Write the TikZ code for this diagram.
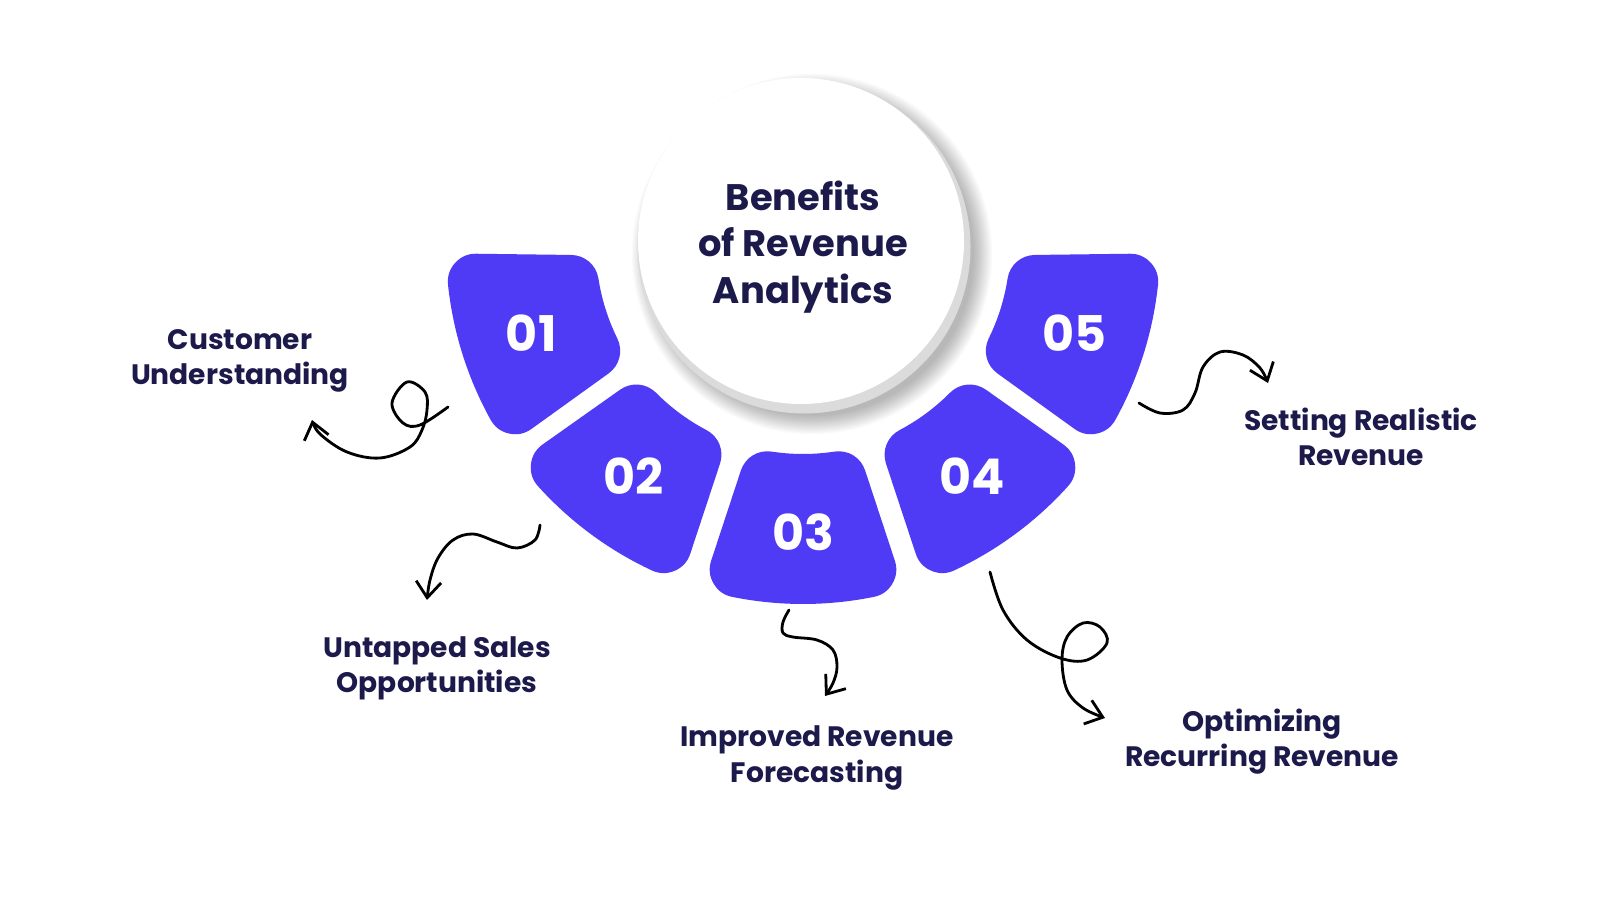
\documentclass[tikz,border=0pt]{standalone}
\usepackage{fontspec}
\setmainfont{Poppins}
\usetikzlibrary{arrows.meta}
\definecolor{segblue}{HTML}{4F3BF6}
\definecolor{navy}{HTML}{1B1A4B}
\tikzset{
  petal/.style={fill=segblue, draw=segblue, line width=0.56cm, line join=round},
  numlabel/.style={text=white, font=\fontsize{14}{14}\selectfont\bfseries},
  benefit/.style={text=navy, align=center, inner sep=0pt, font=\fontsize{8}{10}\selectfont\bfseries},
  headline/.style={text=navy, align=center, inner sep=0pt, font=\fontsize{10.5}{13.2}\selectfont\bfseries},
  squiggle/.style={line width=0.8pt, line cap=round, line join=round, -{Straight Barb[length=1.6mm, width=2.5mm]}},
}
\begin{document}
\begin{tikzpicture}
  \useasboundingbox (0,0) rectangle (16,9);
  \fill[white] (0,0) rectangle (16,9);
  % soft shadow under the hub
  \foreach \k in {0,...,14}
    \fill[black, opacity=0.018] (8.12,6.46) circle ({1.62+0.013*\k});
  \fill[gray!28] (8.04,6.53) circle (1.665);
  \fill[white] (8.01,6.59) circle (1.63);
  \node[headline] (hub) at (8.03,6.53) {Benefits\\of Revenue\\Analytics};
  % petals around the hub
  \begin{scope}[shift={(8.03,6.53)}]
    \foreach \c/\num in {197.5/01,233.5/02,270/03,306.5/04,342.5/05} {
      \pgfmathsetmacro\ia{\c-8.70}
      \pgfmathsetmacro\ib{\c+8.70}
      \pgfmathsetmacro\oa{\c-11.44}
      \pgfmathsetmacro\ob{\c+11.44}
      \filldraw[petal] (\ia:2.35) arc[start angle=\ia, end angle=\ib, radius=2.35]
        -- (\ob:3.29) arc[start angle=\ob, end angle=\oa, radius=3.29] -- cycle;
      \node[numlabel] (p\num) at (\c:2.85) {\num};
    }
  \end{scope}
  % benefit labels
  \node[benefit] (customer) at (2.40,5.39) {Customer\\Understanding};
  \node[benefit] (untapped) at (4.37,2.32) {Untapped Sales\\Opportunities};
  \node[benefit] (forecast) at (8.17,1.42) {Improved Revenue\\Forecasting};
  \node[benefit] (recurring) at (12.62,1.58) {Optimizing\\Recurring Revenue};
  \node[benefit] (realistic) at (13.61,4.63) {Setting Realistic\\Revenue};
  % hand drawn arrows
  \coordinate (s1) at (4.48,4.93);
  \coordinate (t1) at (3.12,4.80);
  \coordinate (s2) at (5.40,3.75);
  \coordinate (t2) at (4.27,3.00);
  \coordinate (s3) at (7.89,2.90);
  \coordinate (t3) at (8.25,2.04);
  \coordinate (s4) at (9.90,3.28);
  \coordinate (t4) at (11.05,1.82);
  \coordinate (s5) at (11.39,4.97);
  \coordinate (t5) at (12.68,5.17);
  \draw[squiggle] plot[smooth, tension=0.6] coordinates {(s1) (4.20,4.75) (4.03,4.77) (3.92,4.97) (4.07,5.18) (4.25,5.08) (4.27,4.90) (4.22,4.70) (4.10,4.53) (3.80,4.42) (3.47,4.48) (3.20,4.66) (t1)};
  \draw[squiggle] plot[smooth, tension=0.6] coordinates {(s2) (5.35,3.60) (5.17,3.52) (4.97,3.58) (4.73,3.66) (4.53,3.60) (4.38,3.42) (4.30,3.20) (t2)};
  \draw[squiggle] plot[smooth, tension=0.6] coordinates {(s3) (7.83,2.78) (7.83,2.67) (7.93,2.63) (8.17,2.60) (8.33,2.50) (8.37,2.33) (8.33,2.17) (t3)};
  \draw[squiggle] plot[smooth, tension=0.6] coordinates {(s4) (10.03,2.90) (10.27,2.60) (10.60,2.42) (10.87,2.40) (11.07,2.57) (11.00,2.73) (10.83,2.77) (10.67,2.63) (10.62,2.40) (10.67,2.10) (10.83,1.92) (t4)};
  \draw[squiggle] plot[smooth, tension=0.6] coordinates {(s5) (11.60,4.87) (11.83,4.90) (11.95,5.07) (12.03,5.33) (12.20,5.48) (12.43,5.45) (12.60,5.32) (t5)};
\end{tikzpicture}
\end{document}
